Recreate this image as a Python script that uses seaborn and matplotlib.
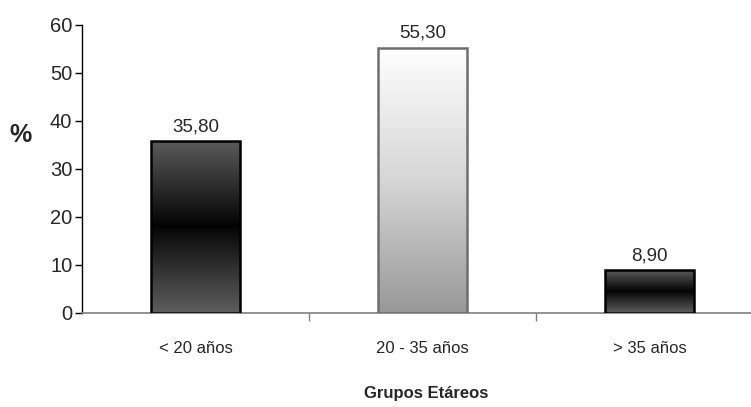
import matplotlib
matplotlib.use("Agg")
import matplotlib.pyplot as plt
import numpy as np
import pandas as pd
import seaborn as sns
from matplotlib.colors import LinearSegmentedColormap

# ── Data ─────────────────────────────────────────────────────────────
grupos = ["< 20 años", "20 - 35 años", "> 35 años"]
porcentajes = [35.80, 55.30, 8.90]
etiquetas = ["35,80", "55,30", "8,90"]

df = pd.DataFrame({"grupo": grupos, "pct": porcentajes})

sns.set_theme(style="white")
plt.rcParams["font.family"] = ["Liberation Sans", "DejaVu Sans"]

fig = plt.figure(figsize=(7.51, 4.07), dpi=100)
# right edge deliberately runs past the figure (axis line is cut in the original)
ax = fig.add_axes([0.1092, 0.231, 0.9068, 0.7076])

sns.barplot(data=df, x="grupo", y="pct", ax=ax, width=0.395,
            color="white", linewidth=0)

# gradient fills: dark bars mirrored (grey-black-grey), light bar white->grey
dark = LinearSegmentedColormap.from_list(
    "dark", [(0, "#5e5e5e"), (0.49, "#080808"), (0.5, "#020202"), (1, "#5a5a5a")])
light = LinearSegmentedColormap.from_list("light", ["#989898", "#d6d6d6", "#ffffff"])
styles = [(dark, "black"), (light, "#6e6e6e"), (dark, "black")]
grad = np.linspace(0, 1, 256).reshape(-1, 1)
for patch, (cmap, ec) in zip(ax.patches, styles):
    x0, y0 = patch.get_x(), patch.get_y()
    w, h = patch.get_width(), patch.get_height()
    im = ax.imshow(grad, cmap=cmap, aspect="auto", origin="lower",
                   extent=[x0, x0 + w, y0, y0 + h], zorder=2)
    im.set_clip_path(patch)
    patch.set_facecolor("none")
    patch.set_edgecolor(ec)
    patch.set_linewidth(1.8)
    patch.set_zorder(3)

for i, (v, t) in enumerate(zip(porcentajes, etiquetas)):
    ax.text(i, v + 1.2, t, ha="center", va="bottom", fontsize=13.5)

ax.set_xlim(-0.5, 2.5)
ax.set_ylim(0, 60)
ax.set_yticks(range(0, 61, 10))
ax.tick_params(axis="y", labelsize=14.5, length=5, width=1, color="black",
               direction="out", left=True, pad=2)
ax.set_xticks([0.5, 1.5], minor=True)
ax.tick_params(axis="x", which="major", length=0, labelsize=12, pad=20)
ax.tick_params(axis="x", which="minor", length=6, width=1, color="#808080",
               direction="out", bottom=True)

for s in ["top", "right"]:
    ax.spines[s].set_visible(False)
ax.spines["left"].set_color("black")
ax.spines["left"].set_linewidth(1)
ax.spines["bottom"].set_color("#808080")
ax.spines["bottom"].set_linewidth(1.2)

ax.set_xlabel("Grupos Etáreos", fontsize=12, fontweight="bold", va="top")
ax.xaxis.set_label_coords(0.506, -0.255)
ax.set_ylabel("%", fontsize=18, fontweight="bold", rotation=0, va="center", ha="center")
ax.yaxis.set_label_coords(-0.0896, 0.618)

fig.savefig("out.png", dpi=100, facecolor="white")
